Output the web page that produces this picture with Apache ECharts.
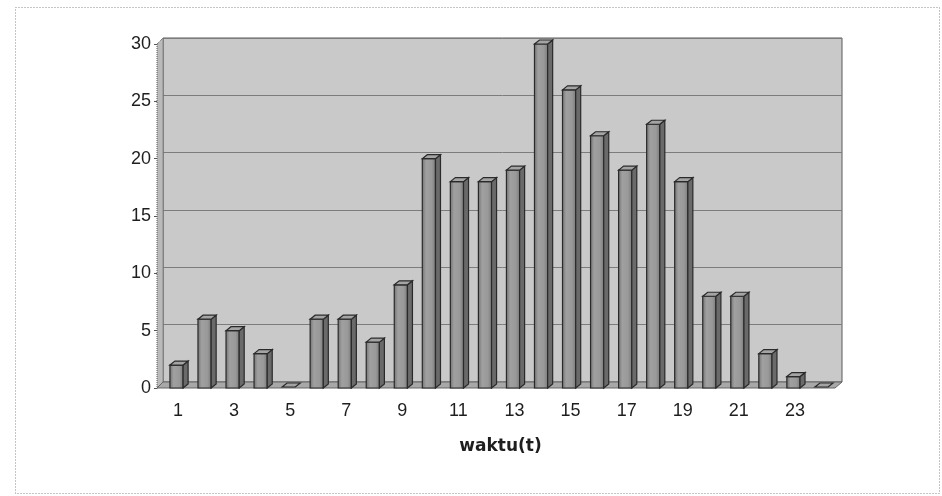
<!DOCTYPE html>
<html>
<head>
<meta charset="utf-8">
<title>waktu(t)</title>
<script src="https://cdn.jsdelivr.net/npm/echarts@6/dist/echarts.min.js"></script>
<style>
  html, body { margin: 0; padding: 0; background: #ffffff; }
  #chart { width: 942px; height: 496px; }
</style>
</head>
<body>
<div id="chart"></div>
<script>
// Hours 1..24 and the count recorded at each hour
const categories = ['1','2','3','4','5','6','7','8','9','10','11','12',
                    '13','14','15','16','17','18','19','20','21','22','23','24'];
const counts = [2, 6, 5, 3, 0, 6, 6, 4, 9, 20, 18, 18,
                19, 30, 26, 22, 19, 23, 18, 8, 8, 3, 1, 0];
const yTicks = [0, 5, 10, 15, 20, 25, 30];

// Front plane (bars + axis labels) and the back wall carrying the gridlines
const FRONT = { left: 164, right: 105, top: 44, bottom: 108 };
const DEPTH = { dx: 6, dy: -5 };          // offset from front plane to back wall
const BAR_DEPTH = { dx: 5, dy: -4 };      // 3D thickness of each bar
const W = 942, H = 496;

const BACK = {
  left: FRONT.left - 1,
  right: FRONT.right + 1 - DEPTH.dx,
  top: FRONT.top + DEPTH.dy - 1,
  bottom: FRONT.bottom - DEPTH.dy + 1
};
const axisX = FRONT.left - 7;            // front edge of the left wall

const chart = echarts.init(document.getElementById('chart'), null, { renderer: 'canvas' });

function renderBar(params, api) {
  const i = api.value(0);
  const v = api.value(1);
  const top = api.coord([i, v]);
  const base = api.coord([i, 0]);
  const band = api.size([1, 0])[0];
  const w = band * 0.47;
  const x0 = top[0] - w / 2 - BAR_DEPTH.dx / 2 + 1;
  const x1 = x0 + w;
  const yTop = Math.min(top[1], base[1] - 1);
  const yBase = base[1];
  const dx = BAR_DEPTH.dx, dy = BAR_DEPTH.dy;
  const stroke = '#2a2a2a';
  const children = [];
  if (yBase - yTop > 1.5) {
    children.push({
      type: 'rect',
      shape: { x: x0, y: yTop, width: w, height: yBase - yTop },
      style: {
        fill: new echarts.graphic.LinearGradient(0, 0, 1, 0, [
          { offset: 0, color: '#6f6f6f' },
          { offset: 0.3, color: '#a0a0a0' },
          { offset: 0.7, color: '#999999' },
          { offset: 1, color: '#777777' }
        ]),
        stroke: stroke, lineWidth: 1.2
      }
    });
    children.push({
      type: 'polygon',
      shape: { points: [[x1, yTop], [x1 + dx, yTop + dy], [x1 + dx, yBase + dy], [x1, yBase]] },
      style: { fill: '#6a6a6a', stroke: stroke, lineWidth: 1.2 }
    });
  }
  children.push({
    type: 'polygon',
    shape: { points: [[x0, yTop], [x0 + dx, yTop + dy], [x1 + dx, yTop + dy], [x1, yTop]] },
    style: { fill: '#a4a4a4', stroke: stroke, lineWidth: 1.2 }
  });
  return { type: 'group', children: children };
}

const labelFont = { fontFamily: 'Liberation Sans, Arial, sans-serif', fontSize: 18, color: '#1e1e1e' };

const option = {
  animation: false,
  backgroundColor: '#ffffff',
  grid: [
    { left: FRONT.left, right: FRONT.right, top: FRONT.top, bottom: FRONT.bottom, containLabel: false },
    {
      left: BACK.left, right: BACK.right, top: BACK.top, bottom: BACK.bottom,
      show: true, backgroundColor: '#c9c9c9',
      borderColor: '#5a5a5a', borderWidth: 1, z: 0
    }
  ],
  xAxis: [
    {
      type: 'category', gridIndex: 0, data: categories,
      axisLine: { show: false },
      axisTick: { show: false },
      axisLabel: Object.assign({ interval: 1, margin: 14 }, labelFont),
      name: 'waktu(t)', nameLocation: 'middle', nameGap: 50,
      nameTextStyle: { fontFamily: 'DejaVu Sans, sans-serif', fontSize: 17, fontWeight: 'bold', color: '#1e1e1e' }
    },
    { type: 'category', gridIndex: 1, data: categories, show: false }
  ],
  yAxis: [
    {
      type: 'value', gridIndex: 0, min: 0, max: 30, interval: 5,
      offset: FRONT.left - axisX,
      axisLine: { show: true, lineStyle: { color: '#555', type: [1, 1] } },
      axisTick: { show: true, length: 3, lineStyle: { color: '#555' } },
      axisLabel: Object.assign({
        margin: 6,
        customValues: yTicks
      }, labelFont),
      splitLine: { show: false }
    },
    {
      type: 'value', gridIndex: 1, min: 0, max: 30, interval: 5,
      axisLine: { show: false }, axisTick: { show: false }, axisLabel: { show: false },
      splitLine: { show: true, lineStyle: { color: '#7c7c7c', width: 1 } }
    }
  ],
  graphic: [
    // outer dotted frame
    {
      type: 'rect', z: -10,
      shape: { x: 15.5, y: 7.5, width: 924, height: 486 },
      style: { fill: 'none', stroke: '#8a8a8a', lineWidth: 1, lineDash: [1, 2] }
    },
    // left side wall
    {
      type: 'polygon', z: 1,
      shape: { points: [
        [axisX, FRONT.top], [BACK.left, BACK.top],
        [BACK.left, H - BACK.bottom], [axisX, H - FRONT.bottom]
      ] },
      style: { fill: '#bababa', stroke: '#555', lineWidth: 1, lineDash: [1, 1] }
    },
    // floor slab
    {
      type: 'polygon', z: 1,
      shape: { points: [
        [axisX, H - FRONT.bottom], [W - FRONT.right - 2, H - FRONT.bottom],
        [W - BACK.right, H - BACK.bottom], [BACK.left, H - BACK.bottom]
      ] },
      style: { fill: '#a8a8a8', stroke: '#666', lineWidth: 1 }
    }
  ],
  series: [
    {
      type: 'custom', xAxisIndex: 0, yAxisIndex: 0, z: 5,
      renderItem: renderBar,
      encode: { x: 0, y: 1 },
      data: counts.map((v, i) => [i, v])
    }
  ]
};

chart.setOption(option);
</script>
</body>
</html>
